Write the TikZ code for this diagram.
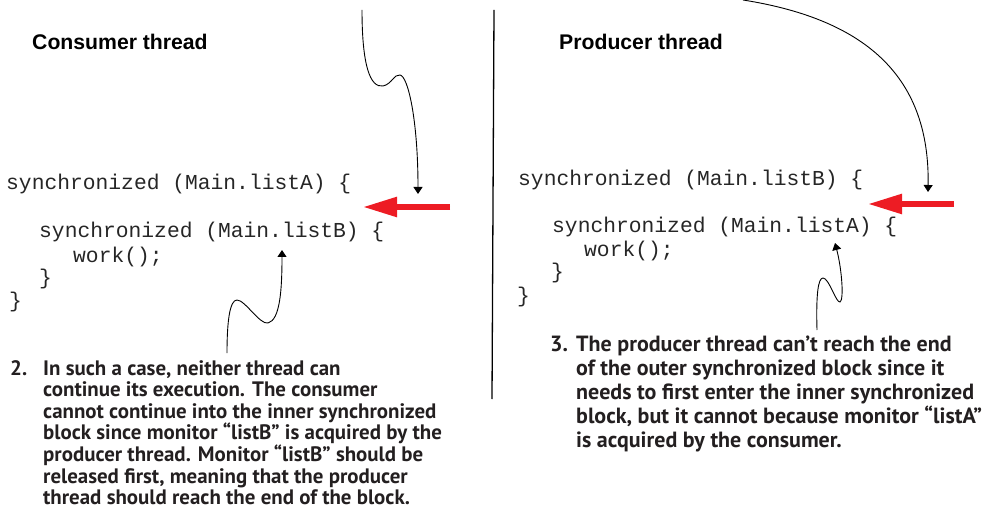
\documentclass[tikz,border=0pt]{standalone}
\usepackage{fontspec}
\setmainfont{Liberation Sans}
\newfontfamily\codefont{Liberation Mono}
\newfontfamily\notefont{PT Sans}
\newfontfamily\headfont{Liberation Sans}
\usetikzlibrary{arrows.meta}
\definecolor{arrowred}{HTML}{ED1C24}
\definecolor{notetext}{HTML}{231F20}
\begin{document}
\begin{tikzpicture}[x=1pt,y=-1pt,
  heading/.style={anchor=base west, inner sep=0pt, font=\headfont\bfseries\fontsize{21.2}{25}\selectfont},
  codeline/.style={anchor=base west, inner sep=0pt, font=\codefont\fontsize{21.3}{24}\selectfont, text=black!85},
  notenum/.style={anchor=base west, inner sep=0pt, text=notetext},
  notebody/.style={anchor=base west, inner sep=0pt, align=left, text=notetext},
  leftnote/.style={font=\notefont\bfseries\fontsize{20.9}{21.6}\selectfont},
  rightnote/.style={font=\notefont\bfseries\fontsize{22}{24}\selectfont},
  redarrow/.style={draw=arrowred, fill=arrowred, line width=5.5pt, -{Triangle[length=34pt,width=19pt]}},
  blkarrow/.style={draw=black, line width=0.9pt, -{Triangle[length=7pt,width=9pt]}},
  divider/.style={draw=black, line width=1.3pt}
]
\useasboundingbox (0,0) rectangle (998,529);

% headings
\node[heading] (hcons) at (32,50) {Consumer thread};
\node[heading] (hprod) at (559,50) {Producer thread};

% divider
\coordinate (vtop) at (494,10);
\coordinate (vbot) at (492,399);
\draw[divider] (vtop) -- (vbot);

% consumer code
\node[codeline] (c1) at (6,190) {synchronized (Main.listA) \{};
\node[codeline] (c2) at (39,238) {synchronized (Main.listB) \{};
\node[codeline] (c3) at (73,262) {work();};
\node[codeline] (c4) at (39,284) {\}};
\node[codeline] (c5) at (9,307) {\}};

% producer code
\node[codeline] (p1) at (518,186) {synchronized (Main.listB) \{};
\node[codeline] (p2) at (552,233) {synchronized (Main.listA) \{};
\node[codeline] (p3) at (584,257) {work();};
\node[codeline] (p4) at (551,279) {\}};
\node[codeline] (p5) at (517,302) {\}};

% red arrows
\coordinate (ra1s) at (450,207);
\coordinate (ra1e) at (363,207);
\draw[redarrow] (ra1s) -- (ra1e);
\coordinate (ra2s) at (954,204);
\coordinate (ra2e) at (868,204);
\draw[redarrow] (ra2s) -- (ra2e);

% black curved arrows (top)
\coordinate (lt0) at (362,10);
\coordinate (lt1) at (383,86);
\coordinate (lt2) at (400,75);
\coordinate (lt3) at (418,194);
\draw[blkarrow] (lt0) .. controls (362,65) and (370,88) .. (lt1)
  .. controls (392,84) and (394,74) .. (lt2)
  .. controls (408,76) and (418,120) .. (lt3);

\coordinate (rt0) at (743,0);
\coordinate (rt1) at (928,192);
\draw[blkarrow] (rt0) .. controls (870,20) and (930,80) .. (rt1);

% black curved arrows (bottom)
\coordinate (lb0) at (227,353);
\coordinate (lb1) at (237,300);
\coordinate (lb2) at (268,323);
\coordinate (lb3) at (282,250);
\draw[blkarrow] (lb0) .. controls (227,320) and (230,300) .. (lb1)
  .. controls (245,300) and (260,325) .. (lb2)
  .. controls (280,320) and (282,290) .. (lb3);

\coordinate (rb0) at (817,330);
\coordinate (rb1) at (823,278);
\coordinate (rb2) at (840,302);
\coordinate (rb3) at (835,243);
\draw[blkarrow] (rb0) .. controls (816,295) and (818,278) .. (rb1)
  .. controls (829,278) and (836,303) .. (rb2)
  .. controls (844,300) and (842,270) .. (rb3);

% notes (base anchor of a multi-line node = baseline of its last line)
\node[notenum, leftnote] (n2) at (10,375) {2.};
\node[notebody, leftnote] (t2) at (43,504.6)
 {In such a case, neither thread can\\
  continue its execution. The consumer\\
  cannot continue into the inner synchronized\\
  block since monitor “listB” is acquired by the\\
  producer thread. Monitor “listB” should be\\
  released first, meaning that the producer\\
  thread should reach the end of the block.};

\node[notenum, rightnote] (n3) at (550,351) {3.};
\node[notebody, rightnote] (t3) at (576,447)
 {The producer thread can’t reach the end\\
  of the outer synchronized block since it\\
  needs to first enter the inner synchronized\\
  block, but it cannot because monitor “listA”\\
  is acquired by the consumer.};
\end{tikzpicture}
\end{document}
